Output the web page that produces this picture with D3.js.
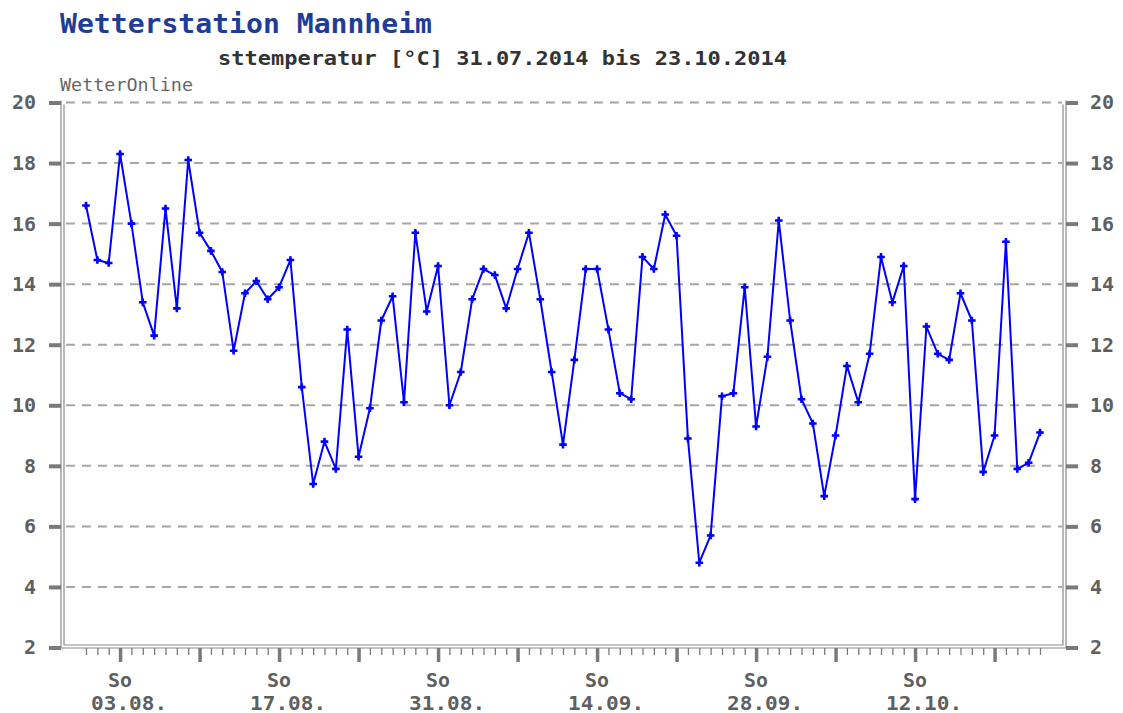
<!DOCTYPE html>
<html>
<head>
<meta charset="utf-8">
<script src="https://cdn.jsdelivr.net/npm/d3@7"></script>
<style>
  html, body { margin: 0; padding: 0; background: #fff; }
  svg { display: block; }
</style>
</head>
<body>
<svg id="chart" width="1123" height="713"></svg>
<script>
// ---- data ----
const startDate = "2014-07-31";
const endDate = "2014-10-23";
const temps = [
  16.6, 14.8, 14.7, 18.3, 16.0, 13.4, 12.3, 16.5, 13.2, 18.1,
  15.7, 15.1, 14.4, 11.8, 13.7, 14.1, 13.5, 13.9, 14.8, 10.6,
  7.4, 8.8, 7.9, 12.5, 8.3, 9.9, 12.8, 13.6, 10.1, 15.7,
  13.1, 14.6, 10.0, 11.1, 13.5, 14.5, 14.3, 13.2, 14.5, 15.7,
  13.5, 11.1, 8.7, 11.5, 14.5, 14.5, 12.5, 10.4, 10.2, 14.9,
  14.5, 16.3, 15.6, 8.9, 4.8, 5.7, 10.3, 10.4, 13.9, 9.3,
  11.6, 16.1, 12.8, 10.2, 9.4, 7.0, 9.0, 11.3, 10.1, 11.7,
  14.9, 13.4, 14.6, 6.9, 12.6, 11.7, 11.5, 13.7, 12.8, 7.8,
  9.0, 15.4, 7.9, 8.1, 9.1
];
const yTickValues = [2, 4, 6, 8, 10, 12, 14, 16, 18, 20];
const gridValues = [4, 6, 8, 10, 12, 14, 16, 18, 20];
const labelDates = ["2014-08-03", "2014-08-17", "2014-08-31", "2014-09-14", "2014-09-28", "2014-10-12"];
const labelDay = "So";
const titleText = "Wetterstation Mannheim";
const subtitleText = "sttemperatur [°C] 31.07.2014 bis 23.10.2014";
const sourceText = "WetterOnline";

// ---- build ----
const parse = d3.utcParse("%Y-%m-%d");
const t0 = parse(startDate), t1 = parse(endDate);
const days = d3.utcDay.range(t0, d3.utcDay.offset(t1, 1));
const data = days.map((d, i) => ({ date: d, v: temps[i] }));

const svg = d3.select("#chart");
const FONT = "'DejaVu Sans Mono', 'Liberation Mono', monospace";
const AX = "#7a7a7a";
const TXT = "#5f5f5f";

const x = d3.scaleUtc().domain([t0, t1]).range([86, 1040]);
const y = d3.scaleLinear().domain([2, 20]).range([647.5, 102.5]);

// titles
svg.append("text").attr("x", 60).attr("y", 33)
  .attr("font-family", FONT).attr("font-weight", "bold").attr("font-size", 27)
  .attr("fill", "#1f3d98").attr("textLength", 372).attr("lengthAdjust", "spacingAndGlyphs")
  .text(titleText);
svg.append("text").attr("x", 218).attr("y", 65)
  .attr("font-family", FONT).attr("font-weight", "bold").attr("font-size", 20)
  .attr("fill", "#333").attr("textLength", 569).attr("lengthAdjust", "spacingAndGlyphs")
  .text(subtitleText);
svg.append("text").attr("x", 60).attr("y", 91)
  .attr("font-family", FONT).attr("font-size", 17)
  .attr("fill", "#666").attr("textLength", 133).attr("lengthAdjust", "spacingAndGlyphs")
  .text(sourceText);

// gridlines
svg.append("g").selectAll("line").data(gridValues).join("line")
  .attr("x1", 66).attr("x2", 1062)
  .attr("y1", d => y(d)).attr("y2", d => y(d))
  .attr("stroke", "#a6a6a6").attr("stroke-width", 2)
  .attr("stroke-dasharray", "9,7");

// frame (double lines, open top)
const fx0 = 61, fx1 = 64, fx2 = 1063, fx3 = 1066, fyIn = 645, fyOut = 648;
const frame = svg.append("g").attr("fill", "none").attr("stroke", "#8a8a8a").attr("stroke-width", 1.2);
frame.append("path").attr("d", `M${fx0},${y(20) - 2}V${fyOut}H${fx3}V${y(20) - 2}`);
frame.append("path").attr("d", `M${fx1},${y(20) + 2}V${fyIn}H${fx2}V${y(20) + 2}`);

// y axes
function styleY(g) {
  g.select(".domain").remove();
  g.selectAll(".tick line").attr("stroke", AX).attr("stroke-width", 4);
  g.selectAll(".tick text").attr("font-family", FONT).attr("font-weight", "bold")
    .attr("font-size", 20).attr("fill", TXT);
}
svg.append("g").attr("transform", `translate(${fx0},0)`)
  .call(d3.axisLeft(y).tickValues(yTickValues).tickSize(12).tickPadding(13).tickFormat(d3.format("d")))
  .call(styleY);
svg.append("g").attr("transform", `translate(${fx3},0)`)
  .call(d3.axisRight(y).tickValues(yTickValues).tickSize(12).tickPadding(12).tickFormat(d3.format("d")))
  .call(styleY);

// x axes: daily minor ticks, weekly (Sunday) major ticks
const gxMinor = svg.append("g").attr("transform", `translate(0,${fyOut})`)
  .call(d3.axisBottom(x).tickValues(days).tickSize(7).tickFormat(""));
gxMinor.select(".domain").remove();
gxMinor.selectAll(".tick line").attr("stroke", AX).attr("stroke-width", 1.3);

const sundays = d3.utcSunday.range(t0, d3.utcDay.offset(t1, 1));
const gxMajor = svg.append("g").attr("transform", `translate(0,${fyOut})`)
  .call(d3.axisBottom(x).tickValues(sundays).tickSize(14).tickFormat(""));
gxMajor.select(".domain").remove();
gxMajor.selectAll(".tick line").attr("stroke", AX).attr("stroke-width", 3.5);

// x labels
const fmt = d3.utcFormat("%d.%m.");
const lab = svg.append("g").selectAll("g").data(labelDates.map(parse)).join("g")
  .attr("transform", d => `translate(${x(d)},0)`);
lab.append("text").attr("x", 0).attr("y", 687).attr("text-anchor", "middle")
  .attr("font-family", FONT).attr("font-weight", "bold").attr("font-size", 19).attr("fill", TXT)
  .attr("textLength", 24).attr("lengthAdjust", "spacingAndGlyphs")
  .text(labelDay);
lab.append("text").attr("x", -29).attr("y", 710)
  .attr("font-family", FONT).attr("font-weight", "bold").attr("font-size", 19).attr("fill", TXT)
  .attr("textLength", 76).attr("lengthAdjust", "spacingAndGlyphs")
  .text(d => fmt(d));

// line + markers
const line = d3.line().x(d => x(d.date)).y(d => y(d.v));
svg.append("path").datum(data)
  .attr("fill", "none").attr("stroke", "#0000ff").attr("stroke-width", 2)
  .attr("stroke-linejoin", "round")
  .attr("d", line);
const mk = svg.append("g").selectAll("g").data(data).join("g")
  .attr("transform", d => `translate(${x(d.date)},${y(d.v)})`)
  .attr("fill", "#0000ff");
mk.append("path").attr("d", d3.symbol(d3.symbolCross, 32));
mk.append("path").attr("d", d3.symbol(d3.symbolDiamond, 16));
</script>
</body>
</html>
